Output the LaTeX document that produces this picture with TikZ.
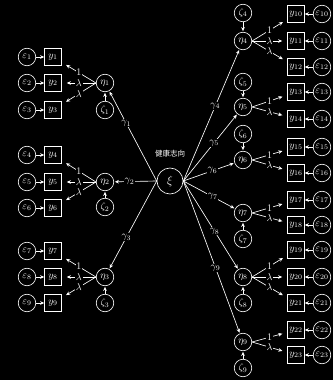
\documentclass[tikz,border=0pt]{standalone}
\usepackage{fontspec}
\newfontfamily\cjk{Noto Sans CJK SC}
\usetikzlibrary{arrows.meta}
\tikzset{
  lat/.style={circle, draw=white, line width=0.65pt, minimum size=17.5pt, inner sep=0pt, text=white},
  obs/.style={rectangle, draw=white, line width=0.65pt, minimum size=17pt, inner sep=0pt, text=white},
  arr/.style={draw=white, line width=0.65pt, -{Stealth[length=4pt,width=3.6pt]}},
  lab/.style={fill=black, text=white, inner sep=0.8pt},
  meas/.style={arr, shorten >=5pt},
  struct/.style={arr, shorten >=0.8pt}
}
\begin{document}
\begin{tikzpicture}[x=1pt,y=-1pt,font=\fontsize{10}{11}\selectfont]
\fill[black] (0,0) rectangle (333,380);
\useasboundingbox (0,0) rectangle (333,380);
% observed + errors, left
\foreach \i/\yy in {1/57,2/83,3/110,4/155,5/182,6/208,7/251,8/277,9/303}{
  \node[obs] (y\i) at (53,\yy) {$y_{\i}$};
  \node[lat] (e\i) at (27,\yy) {$\varepsilon_{\i}$};
  \draw[arr] (e\i) -- (y\i);
}
% observed + errors, right
\foreach \i/\yy in {10/14,11/41,12/67,13/92,14/119,15/147,16/173,17/200,18/225,19/250,20/277,21/303,22/330,23/355}{
  \node[obs] (y\i) at (296,\yy) {$y_{\i}$};
  \node[lat] (e\i) at (322,\yy) {$\varepsilon_{\i}$};
  \draw[arr] (e\i) -- (y\i);
}
% latent factors and disturbances
\foreach \i/\xx/\ye/\yz in {1/105/83/110,2/105/182/207,3/105/277/303,4/243/41/13,5/243/107/82,6/243/160/134,7/243/213/239,8/243/277/303,9/243/342/368}{
  \node[lat] (eta\i) at (\xx,\ye) {$\eta_{\i}$};
  \node[lat] (zeta\i) at (\xx,\yz) {$\zeta_{\i}$};
  \draw[struct] (zeta\i) -- (eta\i);
}
% second-order factor
\node[lat, minimum size=26pt, font=\fontsize{12}{13}\selectfont] (xi) at (170,181) {$\xi$};
\node[text=white, font=\cjk\fontsize{7.5}{8}\selectfont] (xilab) at (170,154) {健康志向};
% loadings, left
\foreach \e/\a/\b/\c in {1/1/2/3,2/4/5/6,3/7/8/9}{
  \draw[meas] (eta\e.west) -- node[lab]{$1$} (y\a);
  \draw[meas] (eta\e.west) -- node[lab]{$\lambda$} (y\b);
  \draw[meas] (eta\e.west) -- node[lab]{$\lambda$} (y\c);
}
% loadings, right
\foreach \e/\a/\b in {4/10/11,5/13/14,6/15/16,7/17/18,8/19/20,9/22/23}{
  \draw[meas] (eta\e.east) -- node[lab]{$1$} (y\a);
  \draw[meas] (eta\e.east) -- node[lab]{$\lambda$} (y\b);
}
\draw[meas] (eta4.east) -- node[lab]{$\lambda$} (y12);
\draw[meas] (eta8.east) -- node[lab]{$\lambda$} (y21);
% structural paths
\foreach \i in {1,2,3}{
  \draw[struct] (xi.west) -- node[lab, pos=0.64]{$\gamma_{\i}$} (eta\i);
}
\foreach \i in {4,...,9}{
  \draw[struct] (xi.east) -- node[lab, pos=0.57]{$\gamma_{\i}$} (eta\i);
}
\end{tikzpicture}
\end{document}
